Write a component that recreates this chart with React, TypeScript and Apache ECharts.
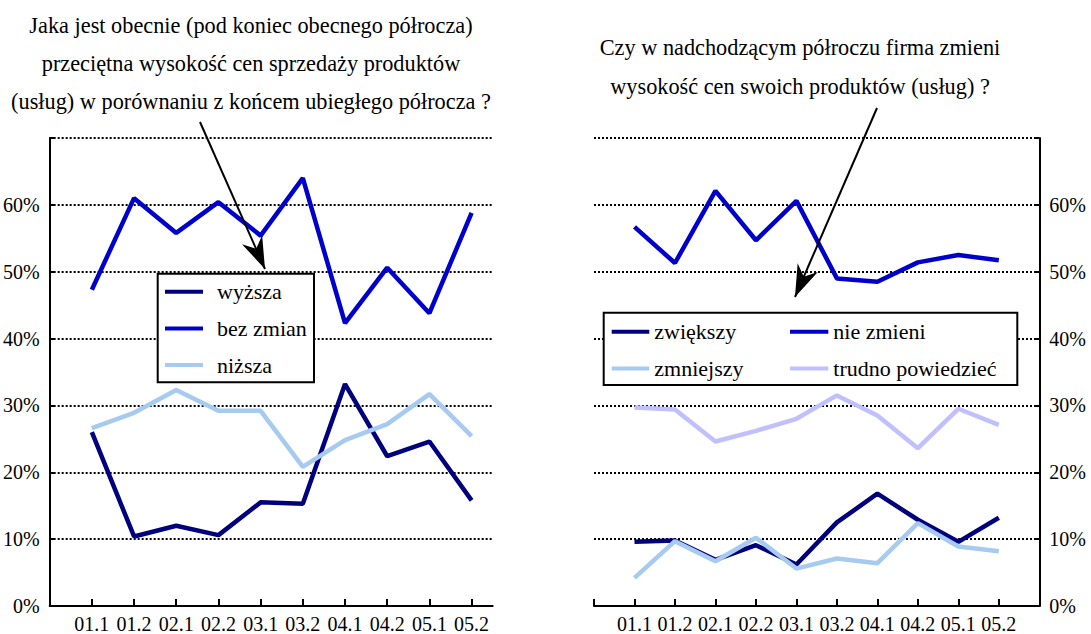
import React, { useEffect, useRef } from "react";
import * as echarts from "echarts";

const categories = ["01.1", "01.2", "02.1", "02.2", "03.1", "03.2", "04.1", "04.2", "05.1", "05.2"];

const leftNames = ["wyższa", "bez zmian", "niższa"];
const wyzsza = [26.0, 10.4, 12.0, 10.6, 15.5, 15.3, 33.2, 22.4, 24.6, 15.8];
const bezZmian = [47.3, 61.0, 55.8, 60.4, 55.4, 64.0, 42.3, 50.6, 43.8, 58.8];
const nizsza = [26.6, 28.9, 32.3, 29.2, 29.2, 20.8, 24.8, 27.2, 31.7, 25.4];

const rightNames = ["zwiększy", "nie zmieni", "zmniejszy", "trudno powiedzieć"];
const zwiekszy = [9.6, 9.8, 6.9, 9.1, 6.2, 12.5, 16.8, 12.9, 9.6, 13.2];
const nieZmieni = [56.7, 51.3, 62.1, 54.7, 60.6, 49.0, 48.5, 51.4, 52.5, 51.7];
const zmniejszy = [4.2, 9.7, 6.7, 10.2, 5.6, 7.1, 6.4, 12.4, 8.9, 8.2];
const trudno = [29.7, 29.4, 24.6, 26.2, 28.0, 31.5, 28.5, 23.6, 29.5, 27.1];

const leftTitle = [
  "Jaka jest obecnie (pod koniec obecnego półrocza)",
  "przeciętna wysokość cen sprzedaży produktów",
  "(usług) w porównaniu z końcem ubiegłego półrocza ?",
];
const rightTitle = ["Czy w nadchodzącym półroczu firma zmieni", "wysokość cen swoich produktów (usług) ?"];

const NAVY = "#00007e";
const BLUE = "#0000cc";
const LIGHT = "#a6caf0";
const LAV = "#c0c0ff";
const FONT = "Liberation Serif";

const toPoints = (vals: number[]) => vals.map((v, i) => [i, v]);

function arrowHead(x0: number, y0: number, tx: number, ty: number, L: number, W: number, notch: number) {
  const dx = tx - x0;
  const dy = ty - y0;
  const len = Math.sqrt(dx * dx + dy * dy);
  const ux = dx / len;
  const uy = dy / len;
  const nx = -uy;
  const ny = ux;
  const bx = tx - L * ux;
  const by = ty - L * uy;
  return [
    [tx, ty],
    [bx + W * nx, by + W * ny],
    [tx - (L - notch) * ux, ty - (L - notch) * uy],
    [bx - W * nx, by - W * ny],
  ];
}

export default function App() {
  const ref = useRef<HTMLDivElement>(null);
  useEffect(() => {
    if (!ref.current) return;
    const chart = echarts.init(ref.current, null, { renderer: "svg" });

    const xAxisBase = (max: number, ticks: number[]) => ({
      type: "value",
      min: -1,
      max,
      interval: 1,
      axisLine: { show: true, onZero: false, lineStyle: { color: "#000", width: 2 } },
      axisTick: { show: true, inside: true, length: 7, customValues: ticks, lineStyle: { color: "#000", width: 2 } },
      axisLabel: {
        customValues: categories.map((_, i) => i),
        formatter: (v: number) => (categories[v] !== undefined ? categories[v] : ""),
        color: "#000",
        fontFamily: FONT,
        fontSize: 20,
        margin: 8,
      },
      splitLine: { show: false },
    });

    const yAxisBase = (gridIndex: number, position: string) => ({
      type: "value",
      gridIndex,
      position,
      min: 0,
      max: 70,
      interval: 10,
      axisLine: { show: true, onZero: false, lineStyle: { color: "#000", width: 2 } },
      axisTick: { show: true, inside: true, length: 5, lineStyle: { color: "#000", width: 2 } },
      axisLabel: {
        formatter: (v: number) => (v >= 70 ? "" : v + "%"),
        color: "#000",
        fontFamily: FONT,
        fontSize: 20,
        margin: 10,
      },
      splitLine: { show: true, lineStyle: { color: "#000", width: 2, type: [2, 2] } },
    });

    const lineSeries = (name: string, vals: number[], color: string, idx: number) => ({
      name,
      type: "line",
      xAxisIndex: idx,
      yAxisIndex: idx,
      data: toPoints(vals),
      showSymbol: false,
      symbol: "none",
      color,
      itemStyle: { color },
      lineStyle: { color, width: 4.5 },
      z: 3,
    });

    const legendBase = {
      orient: "vertical",
      icon: "rect",
      itemHeight: 4,
      itemGap: 14.7,
      padding: 0,
      selectedMode: false,
      itemStyle: { borderWidth: 0 },
      z: 10,
    };
    const legendText = (pad: number) => ({
      fontFamily: FONT,
      fontSize: 22,
      lineHeight: 22,
      color: "#000",
      padding: [0, 0, 0, pad],
    });

    const leftArrowStart = [200, 122];
    const leftArrowTip = [265, 269];
    const rightArrowStart = [877, 108];
    const rightArrowTip = [795, 297];

    const titleTexts: any[] = [];
    leftTitle.forEach((t, i) => {
      titleTexts.push({
        type: "text",
        x: 251,
        y: 25 + i * 38,
        z: 30,
        style: { text: t, fontFamily: FONT, fontSize: 22.3, fill: "#000", align: "center", verticalAlign: "middle" },
      });
    });
    rightTitle.forEach((t, i) => {
      titleTexts.push({
        type: "text",
        x: 800,
        y: 47 + i * 39,
        z: 30,
        style: { text: t, fontFamily: FONT, fontSize: 22.3, fill: "#000", align: "center", verticalAlign: "middle" },
      });
    });

    chart.setOption({
      animation: false,
      backgroundColor: "#fff",
      textStyle: { fontFamily: FONT },
      grid: [
        { left: 47.7, top: 138, width: 445, height: 470 },
        { left: 594, top: 138, width: 445.3, height: 470 },
      ],
      xAxis: [
        { ...xAxisBase(9.5, categories.map((_, i) => i)), gridIndex: 0 },
        { ...xAxisBase(10, [-1, ...categories.map((_, i) => i)]), gridIndex: 1 },
      ],
      yAxis: [yAxisBase(0, "left"), yAxisBase(1, "right")],
      legend: [
        {
          ...legendBase,
          data: leftNames,
          left: 165,
          top: 280.7,
          itemWidth: 38,
          textStyle: legendText(9),
        },
        {
          ...legendBase,
          data: [rightNames[0], rightNames[2]],
          left: 611.7,
          top: 320.7,
          itemWidth: 37.6,
          textStyle: legendText(0),
        },
        {
          ...legendBase,
          data: [rightNames[1], rightNames[3]],
          left: 790,
          top: 320.7,
          itemWidth: 38.3,
          textStyle: legendText(0),
        },
      ],
      graphic: [
        {
          type: "rect",
          z: 5,
          shape: { x: 157.7, y: 273.7, width: 156.3, height: 108.6 },
          style: { fill: "#fff", stroke: "#000", lineWidth: 2 },
        },
        {
          type: "rect",
          z: 5,
          shape: { x: 603.7, y: 312.7, width: 413.6, height: 72.3 },
          style: { fill: "#fff", stroke: "#000", lineWidth: 2 },
        },
        ...titleTexts,
        {
          type: "line",
          z: 20,
          shape: { x1: leftArrowStart[0], y1: leftArrowStart[1], x2: leftArrowTip[0], y2: leftArrowTip[1] },
          style: { stroke: "#000", lineWidth: 2 },
        },
        {
          type: "polygon",
          z: 21,
          shape: { points: arrowHead(leftArrowStart[0], leftArrowStart[1], leftArrowTip[0], leftArrowTip[1], 32, 11, 10) },
          style: { fill: "#000" },
        },
        {
          type: "line",
          z: 20,
          shape: { x1: rightArrowStart[0], y1: rightArrowStart[1], x2: rightArrowTip[0], y2: rightArrowTip[1] },
          style: { stroke: "#000", lineWidth: 2 },
        },
        {
          type: "polygon",
          z: 21,
          shape: { points: arrowHead(rightArrowStart[0], rightArrowStart[1], rightArrowTip[0], rightArrowTip[1], 32, 11, 10) },
          style: { fill: "#000" },
        },
      ],
      series: [
        lineSeries(leftNames[0], wyzsza, NAVY, 0),
        lineSeries(leftNames[1], bezZmian, BLUE, 0),
        lineSeries(leftNames[2], nizsza, LIGHT, 0),
        lineSeries(rightNames[0], zwiekszy, NAVY, 1),
        lineSeries(rightNames[1], nieZmieni, BLUE, 1),
        lineSeries(rightNames[2], zmniejszy, LIGHT, 1),
        lineSeries(rightNames[3], trudno, LAV, 1),
      ],
    });
    return () => chart.dispose();
  }, []);
  return <div ref={ref} style={{ position: "absolute", left: 0, top: 0, width: 1091, height: 634 }} />;
}
